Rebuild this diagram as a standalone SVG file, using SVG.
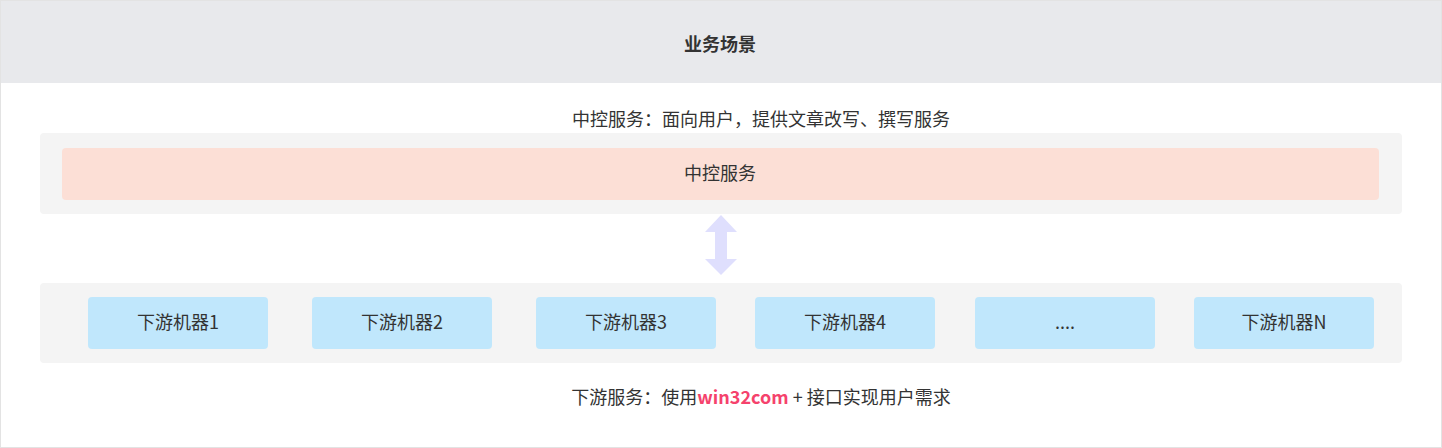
<svg xmlns="http://www.w3.org/2000/svg" width="1442" height="448" viewBox="0 0 1442 448">
<style>
text{font-family:"Noto Sans CJK SC","Noto Sans",sans-serif;font-size:18px;fill:#333;text-anchor:middle;dominant-baseline:central}
.m{fill:#c0e7fc}
.p{fill:#f4f4f4}
</style>
<rect x="0.5" y="0.5" width="1441" height="447" fill="#fff" stroke="#e3e3e3"/>
<g id="header"><rect x="1" y="1" width="1440" height="82" fill="#e8e9ec"/><text x="720" y="43" style="font-weight:bold">业务场景</text></g>
<text x="761" y="118">中控服务：面向用户，提供文章改写、撰写服务</text>
<g id="ctrl-panel"><rect class="p" x="40" y="133" width="1362" height="81" rx="4"/></g>
<g id="ctrl"><rect x="62" y="148" width="1317" height="52" rx="4" fill="#fcdfd6"/><text x="720" y="172">中控服务</text></g>
<g id="connectors"><path d="M721 215 L737 232 L727 232 L727 259 L737 259 L721 275 L705 259 L715 259 L715 232 L705 232 Z" fill="#dfdffd"/></g>
<g id="down-panel"><rect class="p" x="40" y="283" width="1362" height="80" rx="4"/></g>
<g id="m1"><rect class="m" x="88" y="297" width="180" height="52" rx="4"/><text x="178" y="321">下游机器1</text></g>
<g id="m2"><rect class="m" x="312" y="297" width="180" height="52" rx="4"/><text x="402" y="321">下游机器2</text></g>
<g id="m3"><rect class="m" x="536" y="297" width="180" height="52" rx="4"/><text x="626" y="321">下游机器3</text></g>
<g id="m4"><rect class="m" x="755" y="297" width="180" height="52" rx="4"/><text x="845" y="321">下游机器4</text></g>
<g id="m5"><rect class="m" x="975" y="297" width="180" height="52" rx="4"/><text x="1065" y="321">....</text></g>
<g id="mN"><rect class="m" x="1194" y="297" width="180" height="52" rx="4"/><text x="1284" y="321">下游机器N</text></g>
<text x="761" y="396">下游服务：使用<tspan style="fill:#f5426c;font-weight:bold">win32com</tspan> + 接口实现用户需求</text>
</svg>
